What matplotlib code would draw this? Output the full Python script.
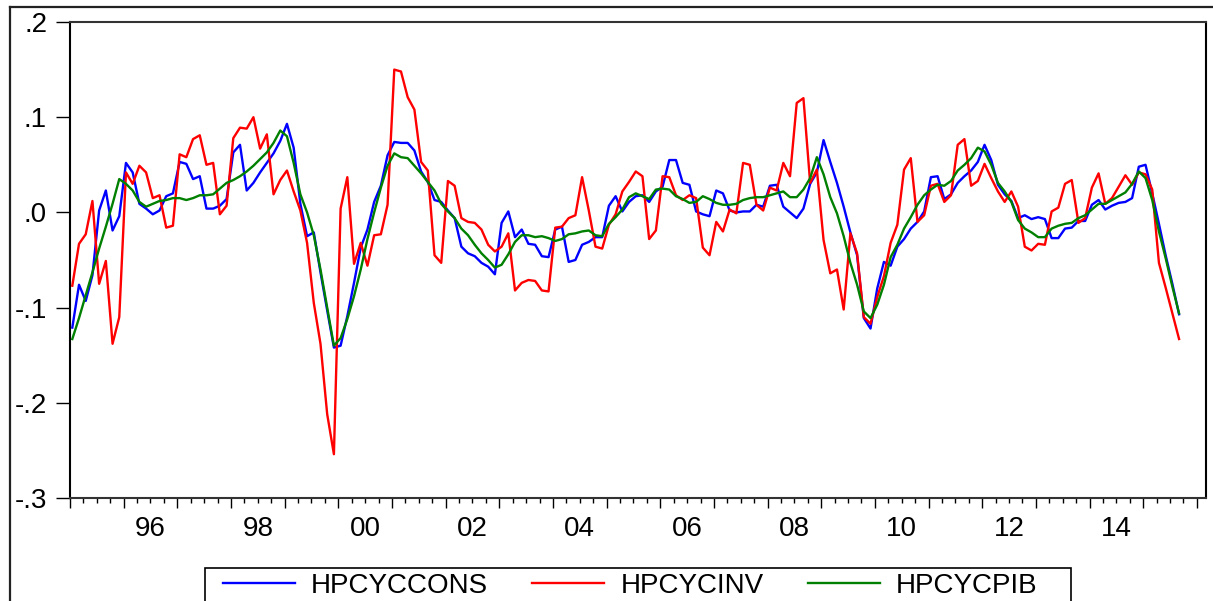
import numpy as np
import matplotlib
matplotlib.use('Agg')
import matplotlib.pyplot as plt
from matplotlib.lines import Line2D
from matplotlib.patches import Rectangle

hpcyccons = [
    -0.121, -0.076, -0.093, -0.066, 0.002, 0.023, -0.019, -0.004, 0.052, 0.042,
    0.009, 0.004, -0.002, 0.002, 0.017, 0.020, 0.053, 0.051, 0.035, 0.038,
    0.004, 0.004, 0.007, 0.014, 0.063, 0.071, 0.023, 0.031, 0.042, 0.052,
    0.062, 0.075, 0.093, 0.068, 0.009, -0.025, -0.021, -0.063, -0.103, -0.142,
    -0.140, -0.109, -0.074, -0.037, -0.018, 0.011, 0.028, 0.060, 0.074, 0.073,
    0.073, 0.065, 0.043, 0.032, 0.013, 0.011, 0.002, -0.006, -0.036, -0.043,
    -0.046, -0.053, -0.057, -0.065, -0.011, 0.001, -0.026, -0.018, -0.033, -0.034,
    -0.046, -0.047, -0.018, -0.015, -0.052, -0.050, -0.034, -0.031, -0.026, -0.026,
    0.007, 0.017, 0.001, 0.011, 0.017, 0.018, 0.011, 0.022, 0.027, 0.055,
    0.055, 0.031, 0.029, 0.001, -0.002, -0.004, 0.023, 0.020, 0.002, 0.000,
    0.001, 0.001, 0.008, 0.006, 0.028, 0.029, 0.006, 0.000, -0.006, 0.004,
    0.030, 0.042, 0.076, 0.053, 0.031, 0.006, -0.021, -0.045, -0.111, -0.122,
    -0.080, -0.052, -0.056, -0.036, -0.028, -0.017, -0.010, 0.001, 0.037, 0.038,
    0.014, 0.019, 0.031, 0.038, 0.044, 0.053, 0.071, 0.055, 0.029, 0.019,
    0.012, -0.006, -0.003, -0.007, -0.005, -0.007, -0.027, -0.027, -0.017, -0.016,
    -0.009, -0.009, 0.008, 0.013, 0.003, 0.007, 0.010, 0.011, 0.015, 0.048,
    0.050, 0.020, -0.012, -0.045, -0.075, -0.107,
]

hpcycinv = [
    -0.077, -0.033, -0.023, 0.012, -0.075, -0.051, -0.138, -0.110, 0.042, 0.030,
    0.049, 0.042, 0.015, 0.018, -0.016, -0.014, 0.061, 0.058, 0.077, 0.081,
    0.050, 0.052, -0.002, 0.007, 0.078, 0.089, 0.088, 0.100, 0.067, 0.082,
    0.019, 0.034, 0.044, 0.022, 0.002, -0.032, -0.095, -0.138, -0.212, -0.254,
    0.004, 0.037, -0.054, -0.032, -0.056, -0.024, -0.023, 0.008, 0.150, 0.148,
    0.121, 0.108, 0.053, 0.044, -0.045, -0.053, 0.033, 0.028, -0.006, -0.010,
    -0.011, -0.018, -0.034, -0.041, -0.036, -0.022, -0.082, -0.074, -0.071, -0.072,
    -0.082, -0.083, -0.016, -0.015, -0.006, -0.003, 0.037, 0.002, -0.036, -0.038,
    -0.013, -0.002, 0.022, 0.032, 0.043, 0.038, -0.028, -0.019, 0.038, 0.037,
    0.018, 0.013, 0.018, 0.015, -0.037, -0.045, -0.010, -0.020, 0.003, -0.001,
    0.052, 0.050, 0.008, 0.002, 0.026, 0.023, 0.052, 0.038, 0.115, 0.120,
    0.031, 0.045, -0.029, -0.064, -0.060, -0.102, -0.022, -0.043, -0.110, -0.117,
    -0.089, -0.067, -0.032, -0.013, 0.045, 0.057, -0.010, -0.003, 0.028, 0.030,
    0.011, 0.018, 0.071, 0.077, 0.028, 0.033, 0.051, 0.036, 0.022, 0.011,
    0.022, 0.006, -0.036, -0.040, -0.033, -0.034, 0.001, 0.005, 0.030, 0.034,
    -0.011, -0.006, 0.026, 0.041, 0.009, 0.015, 0.027, 0.039, 0.029, 0.042,
    0.040, 0.024, -0.053, -0.079, -0.106, -0.133,
]

hpcycpib = [
    -0.133, -0.111, -0.087, -0.063, -0.038, -0.015, 0.009, 0.035, 0.030, 0.023,
    0.011, 0.006, 0.009, 0.012, 0.013, 0.015, 0.015, 0.013, 0.015, 0.018,
    0.018, 0.019, 0.025, 0.031, 0.034, 0.038, 0.043, 0.049, 0.056, 0.063,
    0.073, 0.086, 0.080, 0.052, 0.019, 0.000, -0.024, -0.060, -0.100, -0.140,
    -0.132, -0.112, -0.088, -0.060, -0.028, 0.000, 0.026, 0.049, 0.062, 0.058,
    0.057, 0.049, 0.041, 0.032, 0.023, 0.009, 0.001, -0.006, -0.017, -0.024,
    -0.034, -0.043, -0.050, -0.058, -0.055, -0.044, -0.031, -0.024, -0.024, -0.026,
    -0.025, -0.027, -0.030, -0.028, -0.023, -0.022, -0.020, -0.019, -0.024, -0.025,
    -0.012, -0.005, 0.003, 0.016, 0.020, 0.017, 0.014, 0.024, 0.025, 0.024,
    0.017, 0.014, 0.010, 0.011, 0.017, 0.014, 0.010, 0.008, 0.008, 0.009,
    0.013, 0.015, 0.016, 0.016, 0.018, 0.020, 0.022, 0.016, 0.016, 0.024,
    0.036, 0.058, 0.040, 0.016, -0.001, -0.025, -0.053, -0.076, -0.104, -0.111,
    -0.097, -0.076, -0.047, -0.034, -0.017, -0.005, 0.008, 0.018, 0.024, 0.029,
    0.028, 0.033, 0.044, 0.050, 0.057, 0.068, 0.064, 0.050, 0.031, 0.022,
    0.011, -0.008, -0.017, -0.021, -0.026, -0.026, -0.017, -0.014, -0.012, -0.011,
    -0.006, -0.003, 0.003, 0.009, 0.009, 0.013, 0.017, 0.021, 0.030, 0.043,
    0.036, 0.013, -0.020, -0.048, -0.078, -0.106,
]

series_names = ['HPCYCCONS', 'HPCYCINV', 'HPCYCPIB']
series_colors = ['#0000ff', '#ff0000', '#008000']

first_obs = 1995.043
obs_per_year = 8
x_start, x_end = 1995.0, 2016.17
label_years = list(range(1996, 2015, 2))
y_ticks = [0.2, 0.1, 0.0, -0.1, -0.2, -0.3]
y_labels = ['.2', '.1', '.0', '-.1', '-.2', '-.3']

plt.rcParams['font.family'] = ['Liberation Sans', 'DejaVu Sans']

W, H = 1213, 601
fig = plt.figure(figsize=(W / 100, H / 100), dpi=100)
ax = fig.add_axes([70 / W, 103 / H, 1136 / W, 476 / H])

t = first_obs + np.arange(len(hpcyccons)) / obs_per_year
for vals, name, col in zip([hpcyccons, hpcycinv, hpcycpib], series_names, series_colors):
    ax.plot(t, vals, color=col, lw=1.7, label=name)

ax.set_xlim(x_start, x_end)
ax.set_ylim(-0.3, 0.2)
ax.set_yticks(y_ticks, y_labels)

# year ticks (unlabelled), quarter ticks carry the two-yearly labels at mid-year
years = np.arange(1995, 2017)
ax.set_xticks(years, [''] * len(years))
quarters = [y + q / 4 for y in range(1995, 2016) for q in (1, 2, 3)]
q_labels = []
for q in quarters:
    if q - int(q) == 0.5 and int(q) in label_years:
        q_labels.append(f'{int(q) % 100:02d}')
    else:
        q_labels.append('')
ax.set_xticks(quarters, q_labels, minor=True)

ax.tick_params(axis='y', direction='out', length=10, width=1.0, pad=6.5, labelsize=20)
ax.tick_params(axis='x', which='major', direction='out', length=7.2, width=1.0)
ax.tick_params(axis='x', which='minor', direction='out', length=3.6, width=1.0,
               pad=9.5, labelsize=20)

for side in ['left', 'right']:
    ax.spines[side].set_linewidth(1.5)
    ax.spines[side].set_color('black')
for side in ['top', 'bottom']:
    ax.spines[side].set_linewidth(1.5)
    ax.spines[side].set_color('#333333')

# outer graph frame (only the top and left edges are inside the picture)
fig.add_artist(Line2D([10 / W, 10 / W], [0, 1 - 7 / H], color='#222222', lw=1.6))
fig.add_artist(Line2D([10 / W, 1], [1 - 7 / H, 1 - 7 / H], color='#222222', lw=1.6))

# legend box at the bottom, partly cut off by the picture edge
fig.add_artist(Rectangle((205 / W, -0.1), (1071 - 205) / W, (601 - 568) / H + 0.1,
                         transform=fig.transFigure, fill=False,
                         edgecolor='black', lw=1.2))
fig.legend(loc='center left', bbox_to_anchor=(222.7 / W, 1 - 586 / H), ncol=3,
           frameon=False, fontsize=20, handlelength=2.59, handletextpad=0.58,
           columnspacing=1.6, borderpad=0, borderaxespad=0)

fig.savefig('out.png', dpi=100)
